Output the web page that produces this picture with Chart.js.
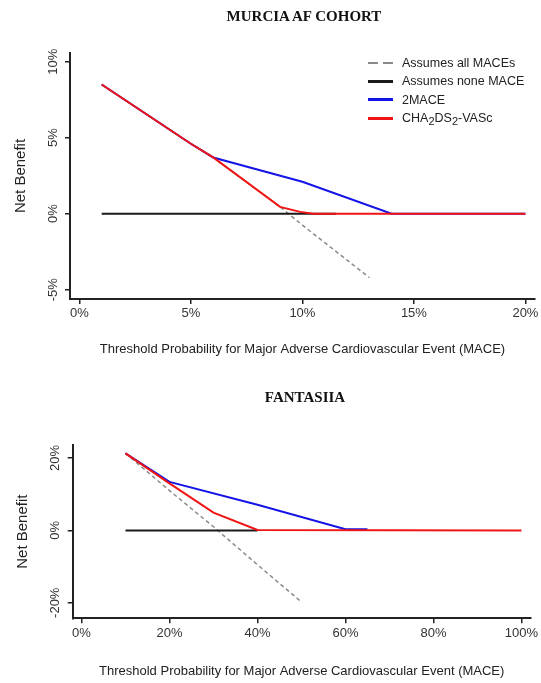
<!DOCTYPE html>
<html>
<head>
<meta charset="utf-8">
<script src="https://cdn.jsdelivr.net/npm/chart.js@4.4.1/dist/chart.umd.min.js"></script>
<style>
  body { margin: 0; background: #fff; width: 541px; height: 683px; overflow: hidden; position: relative;
         font-family: "Liberation Sans", Arial, sans-serif; }
  canvas { position: absolute; left: 0; }
  #murcia { top: 0; }
  #fant { top: 360px; }
  .title { position: absolute; transform: translateX(-50%); white-space: nowrap; color: #111;
           font: bold 15px "Liberation Serif", "Times New Roman", serif; line-height: 18px; }
  .legend { position: absolute; left: 368px; top: 54px; font-size: 12.5px; color: #222; }
  .legend div { height: 18.3px; display: flex; align-items: center; white-space: nowrap; }
  .legend i { display: inline-block; width: 25px; height: 3px; margin-right: 9px; }
  .legend sub { font-size: 11px; position: relative; top: 3px; vertical-align: baseline; line-height: 0; }
</style>
</head>
<body>
<canvas id="murcia" width="541" height="360"></canvas>
<canvas id="fant" width="541" height="323"></canvas>
<div class="title" style="left:304px; top:7px">MURCIA AF COHORT</div>
<div class="title" style="left:305px; top:388px">FANTASIIA</div>
<div class="legend" id="legend"></div>
<script>
// MURCIA AF cohort (threshold %, net benefit %)
const murciaXTicks = [0, 5, 10, 15, 20];
const murciaYTicks = [-5, 0, 5, 10];
const murciaAllX = [1, 5, 6, 9, 10, 11, 13];
const murciaAllY = [8.5, 4.6, 3.7, 0.45, -0.75, -1.9, -4.2];
const murciaNoneX = [1, 11.5];
const murciaNoneY = [0, 0];
const murcia2maceX = [1, 5, 6, 10, 14, 20];
const murcia2maceY = [8.5, 4.6, 3.7, 2.1, 0, 0];
const murciaChaX = [1, 5, 6, 9, 9.9, 10.5, 20];
const murciaChaY = [8.5, 4.6, 3.7, 0.45, 0.12, 0, 0];

// FANTASIIA
const fantXTicks = [0, 20, 40, 60, 80, 100];
const fantYTicks = [-20, 0, 20];
const fantAllX = [10, 20, 30, 40, 50];
const fantAllY = [21.3, 11.0, 1.0, -9.5, -19.8];
const fantNoneX = [10, 40];
const fantNoneY = [0, 0];
const fant2maceX = [10, 20, 40, 60, 65];
const fant2maceY = [21.3, 13.4, 7.1, 0.3, 0.3];
const fantChaX = [10, 20, 30, 40, 100];
const fantChaY = [21.3, 13.0, 4.9, 0.1, 0];

const FONT = '"Liberation Sans", Arial, sans-serif';
const AXIS = '#222';

const SERIES = [
    { label: 'Assumes all MACEs', html: 'Assumes all MACEs', color: '#8a8a8a', width: 1.5, dash: [4, 3], order: 4 },
    { label: 'Assumes none MACE', html: 'Assumes none MACE', color: '#1a1a1a', width: 2, dash: [], order: 3 },
    { label: '2MACE', html: '2MACE', color: '#1414e6', width: 2, dash: [], order: 2 },
    { label: 'CHA2DS2-VASc', html: 'CHA<sub>2</sub>DS<sub>2</sub>-VASc', color: '#f01414', width: 2, dash: [], order: 1 },
];

const zip = (xs, ys) => xs.map((x, i) => ({ x, y: ys[i] }));

function drawPanel(id, opt) {
    const datasets = SERIES.map((s, i) => ({
        label: s.label,
        data: zip(opt.xs[i], opt.ys[i]),
        borderColor: s.color,
        backgroundColor: s.color,
        borderWidth: s.width,
        borderDash: s.dash,
        order: s.order,
        pointRadius: 0,
        tension: 0,
        fill: false,
    }));

    return new Chart(document.getElementById(id), {
        type: 'line',
        data: { datasets },
        options: {
            responsive: false,
            animation: false,
            events: [],
            layout: { padding: { left: 0, right: opt.padRight, top: opt.padTop, bottom: 0 } },
            plugins: {
                legend: { display: false },
                tooltip: { enabled: false },
                title: { display: false },
            },
            scales: {
                x: {
                    type: 'linear',
                    min: opt.xMin,
                    max: opt.xMax,
                    afterBuildTicks: (sc) => { sc.ticks = opt.xTicks.map(v => ({ value: v })); },
                    afterFit: (sc) => { sc.height = opt.xAxisH; },
                    border: { display: true, color: AXIS, width: 2 },
                    grid: { drawOnChartArea: false, drawTicks: true, tickLength: 5, color: AXIS, lineWidth: 1.5 },
                    ticks: {
                        padding: 2,
                        color: '#333',
                        autoSkip: false,
                        maxRotation: 0,
                        font: { family: FONT, size: 13 },
                        callback: (v) => v + '%',
                    },
                    title: {
                        display: true,
                        text: 'Threshold Probability for Major Adverse Cardiovascular Event (MACE)',
                        color: '#222',
                        font: { family: FONT, size: 13 },
                        padding: { top: 0, bottom: opt.xTitleBottom },
                    },
                },
                y: {
                    type: 'linear',
                    min: opt.yMin,
                    max: opt.yMax,
                    afterBuildTicks: (sc) => { sc.ticks = opt.yTicks.map(v => ({ value: v })); },
                    afterFit: (sc) => { sc.width = opt.yAxisW; },
                    border: { display: true, color: AXIS, width: 2 },
                    grid: { drawOnChartArea: false, drawTicks: true, tickLength: 5, color: AXIS, lineWidth: 1.5 },
                    ticks: {
                        padding: opt.yTickPad,
                        color: '#333',
                        autoSkip: false,
                        minRotation: 90,
                        maxRotation: 90,
                        crossAlign: 'center',
                        font: { family: FONT, size: 13 },
                        callback: (v) => v + '%',
                    },
                    title: {
                        display: true,
                        text: 'Net Benefit',
                        color: '#222',
                        font: { family: FONT, size: 15 },
                        padding: { top: opt.yTitleTop, bottom: 0 },
                    },
                },
            },
        },
    });
}

drawPanel('murcia', {
    xs: [murciaAllX, murciaNoneX, murcia2maceX, murciaChaX],
    ys: [murciaAllY, murciaNoneY, murcia2maceY, murciaChaY],
    xTicks: murciaXTicks, yTicks: murciaYTicks,
    xMin: -0.42, xMax: 20.43, yMin: -5.61, yMax: 10.57,
    padRight: 6, padTop: 53,
    xAxisH: 61, yAxisW: 70, yTickPad: -1.5, yTitleTop: 12, xTitleBottom: 3,
});

drawPanel('fant', {
    xs: [fantAllX, fantNoneX, fant2maceX, fantChaX],
    ys: [fantAllY, fantNoneY, fant2maceY, fantChaY],
    xTicks: fantXTicks, yTicks: fantYTicks,
    xMin: -2.0, xMax: 102.1, yMin: -24.3, yMax: 23.6,
    padRight: 10.3, padTop: 85,
    xAxisH: 64.7, yAxisW: 72.7, yTickPad: -2.5, yTitleTop: 13.4, xTitleBottom: 4,
});

// legend for the top panel, html so the subscripts stay real text
document.getElementById('legend').innerHTML = SERIES.map(s => {
    const swatch = s.dash.length
        ? `background:repeating-linear-gradient(90deg, ${s.color} 0 10px, transparent 10px 15px); height:2px`
        : `background:${s.color}`;
    return `<div><i style="${swatch}"></i>${s.html}</div>`;
}).join('');
</script>
</body>
</html>
